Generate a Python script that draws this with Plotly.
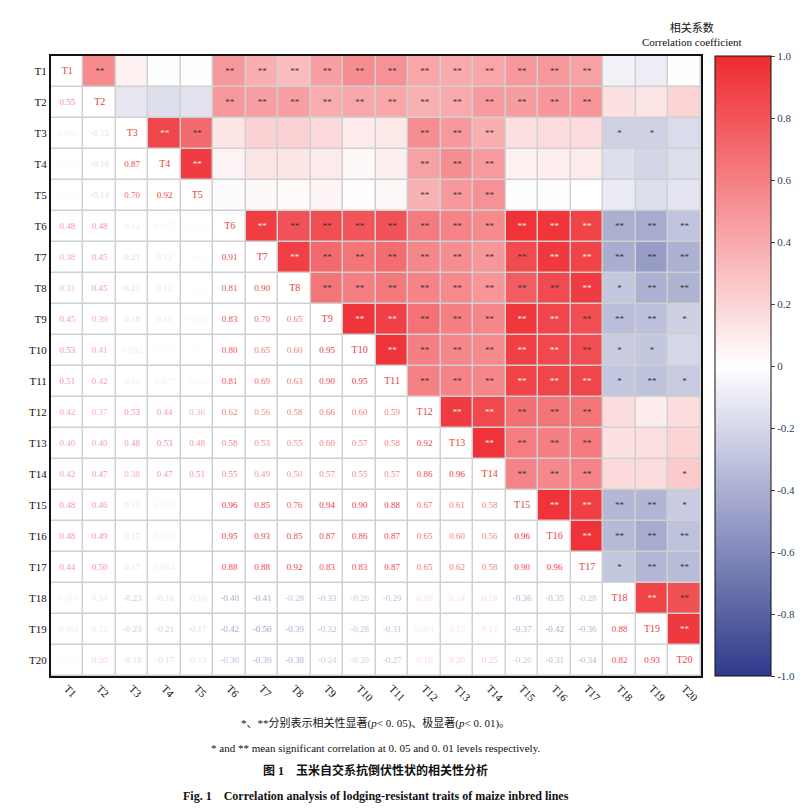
import plotly.graph_objects as go
import numpy as np

traits = ["T%d" % i for i in range(1, 21)]

# lower triangle, row i holds correlations with T1..T(i-1)
lower = [
    [],
    [0.55],
    [0.065, -0.12],
    [-0.0030, -0.16, 0.87],
    [-0.0046, -0.14, 0.70, 0.92],
    [0.48, 0.48, 0.12, 0.055, -0.013],
    [0.38, 0.45, 0.21, 0.12, 0.030, 0.91],
    [0.31, 0.45, 0.21, 0.12, 0.022, 0.81, 0.90],
    [0.45, 0.39, 0.18, 0.10, 0.042, 0.83, 0.70, 0.65],
    [0.53, 0.41, 0.092, 0.032, 0.010, 0.80, 0.65, 0.60, 0.95],
    [0.51, 0.42, 0.11, 0.077, 0.038, 0.81, 0.69, 0.63, 0.90, 0.95],
    [0.42, 0.37, 0.53, 0.44, 0.36, 0.62, 0.56, 0.58, 0.66, 0.60, 0.59],
    [0.40, 0.40, 0.48, 0.53, 0.48, 0.58, 0.53, 0.55, 0.60, 0.57, 0.58, 0.92],
    [0.42, 0.47, 0.38, 0.47, 0.51, 0.55, 0.49, 0.50, 0.57, 0.55, 0.57, 0.86, 0.96],
    [0.48, 0.46, 0.15, 0.065, 0.0034, 0.96, 0.85, 0.76, 0.94, 0.90, 0.88, 0.67, 0.61, 0.58],
    [0.48, 0.49, 0.17, 0.081, 0.0042, 0.95, 0.93, 0.85, 0.87, 0.86, 0.87, 0.65, 0.60, 0.56, 0.96],
    [0.44, 0.50, 0.17, 0.094, 0.0, 0.88, 0.88, 0.92, 0.83, 0.83, 0.87, 0.65, 0.62, 0.58, 0.90, 0.96],
    [-0.061, 0.14, -0.23, -0.16, -0.10, -0.40, -0.41, -0.28, -0.33, -0.26, -0.29, 0.16, 0.14, 0.18, -0.36, -0.35, -0.28],
    [-0.091, 0.12, -0.23, -0.21, -0.17, -0.42, -0.50, -0.39, -0.32, -0.28, -0.31, 0.091, 0.15, 0.17, -0.37, -0.42, -0.36, 0.88],
    [0.0034, 0.20, -0.18, -0.17, -0.13, -0.30, -0.39, -0.38, -0.24, -0.20, -0.27, 0.16, 0.20, 0.25, -0.26, -0.31, -0.34, 0.82, 0.93],
]

n = len(traits)
z = np.zeros((n, n))
for i in range(n):
    for j, v in enumerate(lower[i]):
        z[j][i] = v  # upper triangle coloured

stops = [(0.0, (46, 58, 140)), (0.5, (255, 255, 255)), (1.0, (238, 42, 48))]
cscale = [[s, "rgb(%d,%d,%d)" % c] for s, c in stops]


def col(v):
    t = (v + 1) / 2
    if t <= 0.5:
        a, b, f = stops[0][1], stops[1][1], t / 0.5
    else:
        a, b, f = stops[1][1], stops[2][1], (t - 0.5) / 0.5
    c = [int(a[k] + (b[k] - a[k]) * f) for k in range(3)]
    return "rgb(%d,%d,%d)" % tuple(c)


def fmt(v):
    if v == 0:
        return ""
    if abs(v) < 0.01:
        return "%.4f" % v
    if abs(v) < 0.1 and round(v, 2) != v:
        return "%.3f" % v
    return "%.2f" % v


lx, ly, lt, lc = [], [], [], []
sx, sy, st, sc = [], [], [], []
for i in range(n):
    for j, v in enumerate(lower[i]):
        lx.append(j); ly.append(i); lt.append(fmt(v)); lc.append(col(v))
        star = "**" if abs(v) >= 0.30 else ("*" if abs(v) >= 0.22 else "")
        if star:
            sx.append(i); sy.append(j); st.append(star)
            sc.append("#f4f4f4" if abs(v) >= 0.86 else "#333333")

font = "Liberation Serif"
idx = list(range(n))
fig = go.Figure()
fig.add_trace(go.Heatmap(
    z=z, x=idx, y=idx, colorscale=cscale, zmin=-1, zmax=1, xgap=1.5, ygap=1.5,
    hoverinfo="skip",
    colorbar=dict(x=0.92, xanchor="left", xpad=0, ypad=0, len=1.0, y=0.5, thickness=56,
                  outlinewidth=1, outlinecolor="#111",
                  tickvals=[-1, -0.8, -0.6, -0.4, -0.2, 0, 0.2, 0.4, 0.6, 0.8, 1],
                  ticktext=["-1.0", "-0.8", "-0.6", "-0.4", "-0.2", "0", "0.2", "0.4", "0.6", "0.8", "1.0"],
                  ticks="outside", ticklen=4, tickfont=dict(family=font, size=11))))
fig.add_trace(go.Scatter(x=lx, y=ly, mode="text", text=lt, textfont=dict(family=font, size=9, color=lc),
                         hoverinfo="skip", showlegend=False))
fig.add_trace(go.Scatter(x=sx, y=sy, mode="text", text=st, textfont=dict(family=font, size=9, color=sc),
                         hoverinfo="skip", showlegend=False))
fig.add_trace(go.Scatter(x=idx, y=idx, mode="text", text=traits,
                         textfont=dict(family=font, size=10, color="#e8453c"),
                         hoverinfo="skip", showlegend=False))

fig.update_xaxes(range=[-0.5, n - 0.5], tickvals=idx, ticktext=traits, tickangle=45,
                 showline=True, mirror=True, linecolor="#111", linewidth=2, automargin=False,
                 tickfont=dict(family=font, size=11, color="#111"), showgrid=False, zeroline=False)
fig.update_yaxes(range=[n - 0.5, -0.5], tickvals=idx, ticktext=traits,
                 showline=True, mirror=True, linecolor="#111", linewidth=2, automargin=False,
                 tickfont=dict(family=font, size=11, color="#111"), showgrid=False, zeroline=False)

fig.add_annotation(text="相关系数<br>Correlation coefficient", xref="paper", yref="paper",
                   x=0.96, y=1.0, yanchor="bottom", yshift=6, showarrow=False,
                   font=dict(family=font + ", Noto Sans CJK SC", size=11, color="#111"))

captions = [
    ("*、**分别表示相关性显著(<i>p</i>< 0. 05)、极显著(<i>p</i>< 0. 01)。", 11, -0.09),
    ("* and ** mean significant correlation at 0. 05 and 0. 01 levels respectively.", 11, -0.129),
    ("<b>图 1    玉米自交系抗倒伏性状的相关性分析</b>", 12, -0.168),
    ("<b>Fig. 1    Correlation analysis of lodging-resistant traits of maize inbred lines</b>", 12, -0.208),
]
for text, size, y in captions:
    fig.add_annotation(text=text, xref="paper", yref="paper", x=0.45, y=y, showarrow=False,
                       font=dict(family=font + ", Noto Sans CJK SC", size=size, color="#111"))

fig.update_layout(width=805, height=812, margin=dict(l=43, r=40, t=48, b=144, autoexpand=False),
                  plot_bgcolor="#d0d0d0", paper_bgcolor="white",
                  xaxis=dict(domain=[0, 0.9]))
fig.write_html("out.html")
